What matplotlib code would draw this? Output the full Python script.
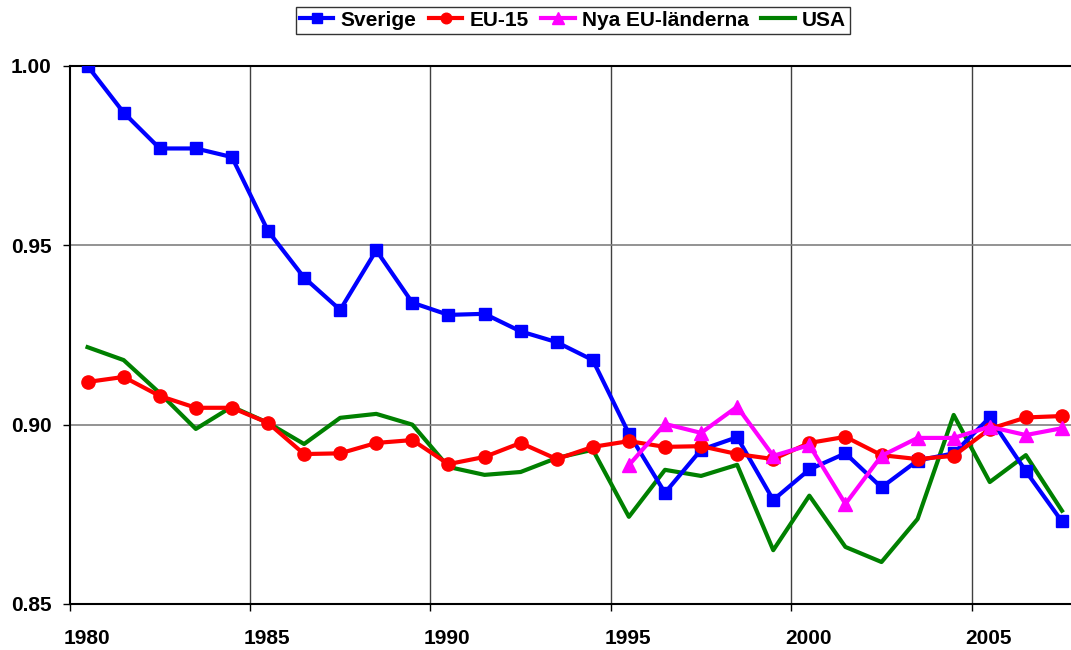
import matplotlib
matplotlib.use('Agg')
import matplotlib.pyplot as plt
import matplotlib.transforms as mtransforms
import numpy as np

plt.rcParams['font.family'] = ['Liberation Sans', 'DejaVu Sans']
plt.rcParams['font.weight'] = 'bold'

years = np.arange(1980, 2008)
years_new = np.arange(1995, 2008)

sverige = [1.000, 0.987, 0.977, 0.977, 0.9746, 0.954, 0.941, 0.932, 0.9486, 0.934,
           0.9306, 0.9309, 0.926, 0.923, 0.918, 0.8975, 0.881, 0.893, 0.8965, 0.879,
           0.8875, 0.892, 0.8825, 0.890, 0.892, 0.902, 0.887, 0.873]
eu15 = [0.9119, 0.9133, 0.908, 0.9047, 0.9047, 0.9005, 0.8918, 0.892, 0.8949, 0.8957,
        0.889, 0.891, 0.8949, 0.8904, 0.8938, 0.8954, 0.8938, 0.894, 0.8918, 0.8904,
        0.8949, 0.8966, 0.8915, 0.8904, 0.8913, 0.8988, 0.902, 0.9024]
nya_eu = [0.8887, 0.9002, 0.8977, 0.905, 0.8913, 0.8943, 0.8779, 0.8913, 0.8963,
          0.8963, 0.8994, 0.8971, 0.899]
usa = [0.9216, 0.918, 0.9088, 0.8988, 0.905, 0.9005, 0.8946, 0.9019, 0.903, 0.9,
       0.8882, 0.886, 0.8868, 0.8907, 0.893, 0.8743, 0.8874, 0.8857, 0.8888, 0.865,
       0.8802, 0.8659, 0.8617, 0.8737, 0.9027, 0.884, 0.8915, 0.876]

xtick_years = [1980, 1985, 1990, 1995, 2000, 2005]
ytick_vals = [0.85, 0.90, 0.95, 1.00]

fig = plt.figure(figsize=(10.71, 6.5), dpi=100)
ax = fig.add_axes([0.0649, 0.0708, 0.9435, 0.8277])

x = years + 0.5
xn = years_new + 0.5
ax.plot(x, sverige, color='#0000FF', lw=3, marker='s', ms=8.5, label='Sverige', zorder=5)
ax.plot(x, eu15, color='#FF0000', lw=3, marker='o', ms=9.5, label='EU-15', zorder=6)
ax.plot(xn, nya_eu, color='#FF00FF', lw=3, marker='^', ms=10, label='Nya EU-länderna', zorder=7)
ax.plot(x, usa, color='#008000', lw=3, label='USA', zorder=4)

ax.set_xlim(1980, 2008)
ax.set_ylim(0.85, 1.00)
ax.set_xticks(xtick_years)
ax.set_xticklabels([str(y) for y in xtick_years])
ax.set_yticks(ytick_vals)
ax.set_yticklabels([f'{v:.2f}' for v in ytick_vals])

for xv in xtick_years[1:]:
    ax.axvline(xv, color='#404040', lw=1, zorder=1)
for yv in [0.90, 0.95]:
    ax.axhline(yv, color='#808080', lw=1.2, zorder=1)
ax.axhline(1.00, color='black', lw=1.5, zorder=1, clip_on=False)

for s in ['top', 'right']:
    ax.spines[s].set_visible(False)
ax.spines['left'].set_linewidth(1.5)
ax.spines['bottom'].set_linewidth(1.5)

ax.tick_params(axis='both', labelsize=15, length=5, width=1, direction='out')
ax.tick_params(axis='x', pad=13)
ax.tick_params(axis='y', pad=8)

# Excel-style labels sit a bit right of their gridlines
offset = mtransforms.ScaledTranslation(17 / 100, 0, fig.dpi_scale_trans)
for lab in ax.get_xticklabels():
    lab.set_transform(lab.get_transform() + offset)

leg = fig.legend(loc='upper center', bbox_to_anchor=(0.535, 1.006), ncol=4, frameon=True,
                 fancybox=False, edgecolor='black', fontsize=15, handlelength=1.6,
                 handletextpad=0.35, columnspacing=0.6, borderpad=0.2, markerscale=0.8)
leg.get_frame().set_linewidth(1.0)

fig.savefig('out.png', dpi=100)
